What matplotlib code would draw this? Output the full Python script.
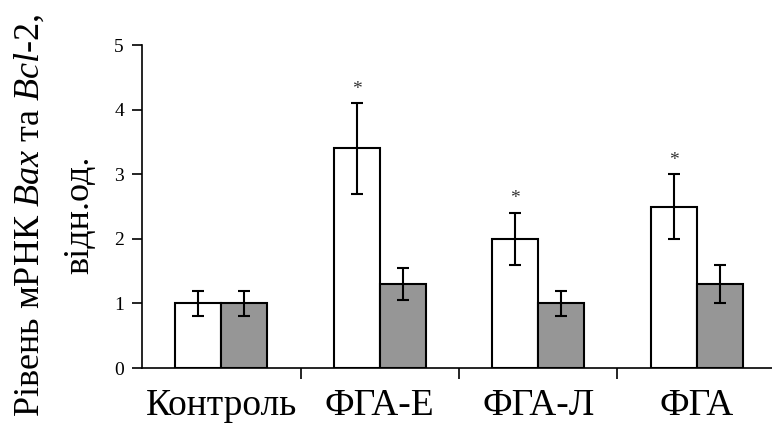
import matplotlib
matplotlib.use("Agg")
import matplotlib.pyplot as plt
import numpy as np

plt.rcParams.update({
    "font.family": ["Liberation Serif", "DejaVu Serif"],
    "mathtext.fontset": "custom",
    "mathtext.rm": "Liberation Serif",
    "mathtext.it": "Liberation Serif:italic",
})

# дані
groups = ["Контроль", "ФГА-Е", "ФГА-Л", "ФГА"]
bax = [1.0, 3.4, 2.0, 2.5]
bax_err = [0.2, 0.7, 0.4, 0.5]
bcl2 = [1.0, 1.3, 1.0, 1.3]
bcl2_err = [0.2, 0.25, 0.2, 0.3]
signif = [False, True, True, True]

fig = plt.figure(figsize=(7.72, 4.30), dpi=100)
ax = fig.add_axes([0.184, 0.144, 0.816, 0.751])

x = np.arange(len(groups))
w = 0.29
ekw = dict(ecolor="black", elinewidth=1.5, capsize=4, capthick=1.5)
ax.bar(x - w / 2, bax, w, yerr=bax_err, color="white", edgecolor="black",
       linewidth=1.5, error_kw=ekw, zorder=2)
ax.bar(x + w / 2, bcl2, w, yerr=bcl2_err, color="#969696", edgecolor="black",
       linewidth=1.5, error_kw=ekw, zorder=2)

for xi, v, e, s in zip(x, bax, bax_err, signif):
    if s:
        ax.text(xi - w / 2, v + e + 0.22, "*", ha="center", va="center",
                fontsize=14, color="#333333")

ax.set_xlim(-0.5, 3.475)
ax.set_ylim(0, 5)
ax.set_yticks(range(6))
ax.tick_params(axis="y", direction="out", length=7, width=1.2, labelsize=14, pad=6)
ax.set_xticks([0.5, 1.5, 2.5])
ax.set_xticklabels([])
ax.tick_params(axis="x", which="major", direction="out", length=8, width=1.2)
ax.set_xticks(x, minor=True)
ax.set_xticklabels(groups, minor=True, fontsize=27)
ax.tick_params(axis="x", which="minor", length=0, pad=15)

for s in ("top", "right"):
    ax.spines[s].set_visible(False)
for s in ("left", "bottom"):
    ax.spines[s].set_linewidth(1.2)

fig.text(0.039, 0.498, "Рівень мРНК $\\mathit{Bax}$ та $\\mathit{Bcl}$-$\\mathit{2}$,",
         rotation=90, ha="center", va="center", fontsize=26)
fig.text(0.103, 0.5, "відн.од.", rotation=90, ha="center", va="center", fontsize=26)

fig.savefig("out.png", dpi=100)
